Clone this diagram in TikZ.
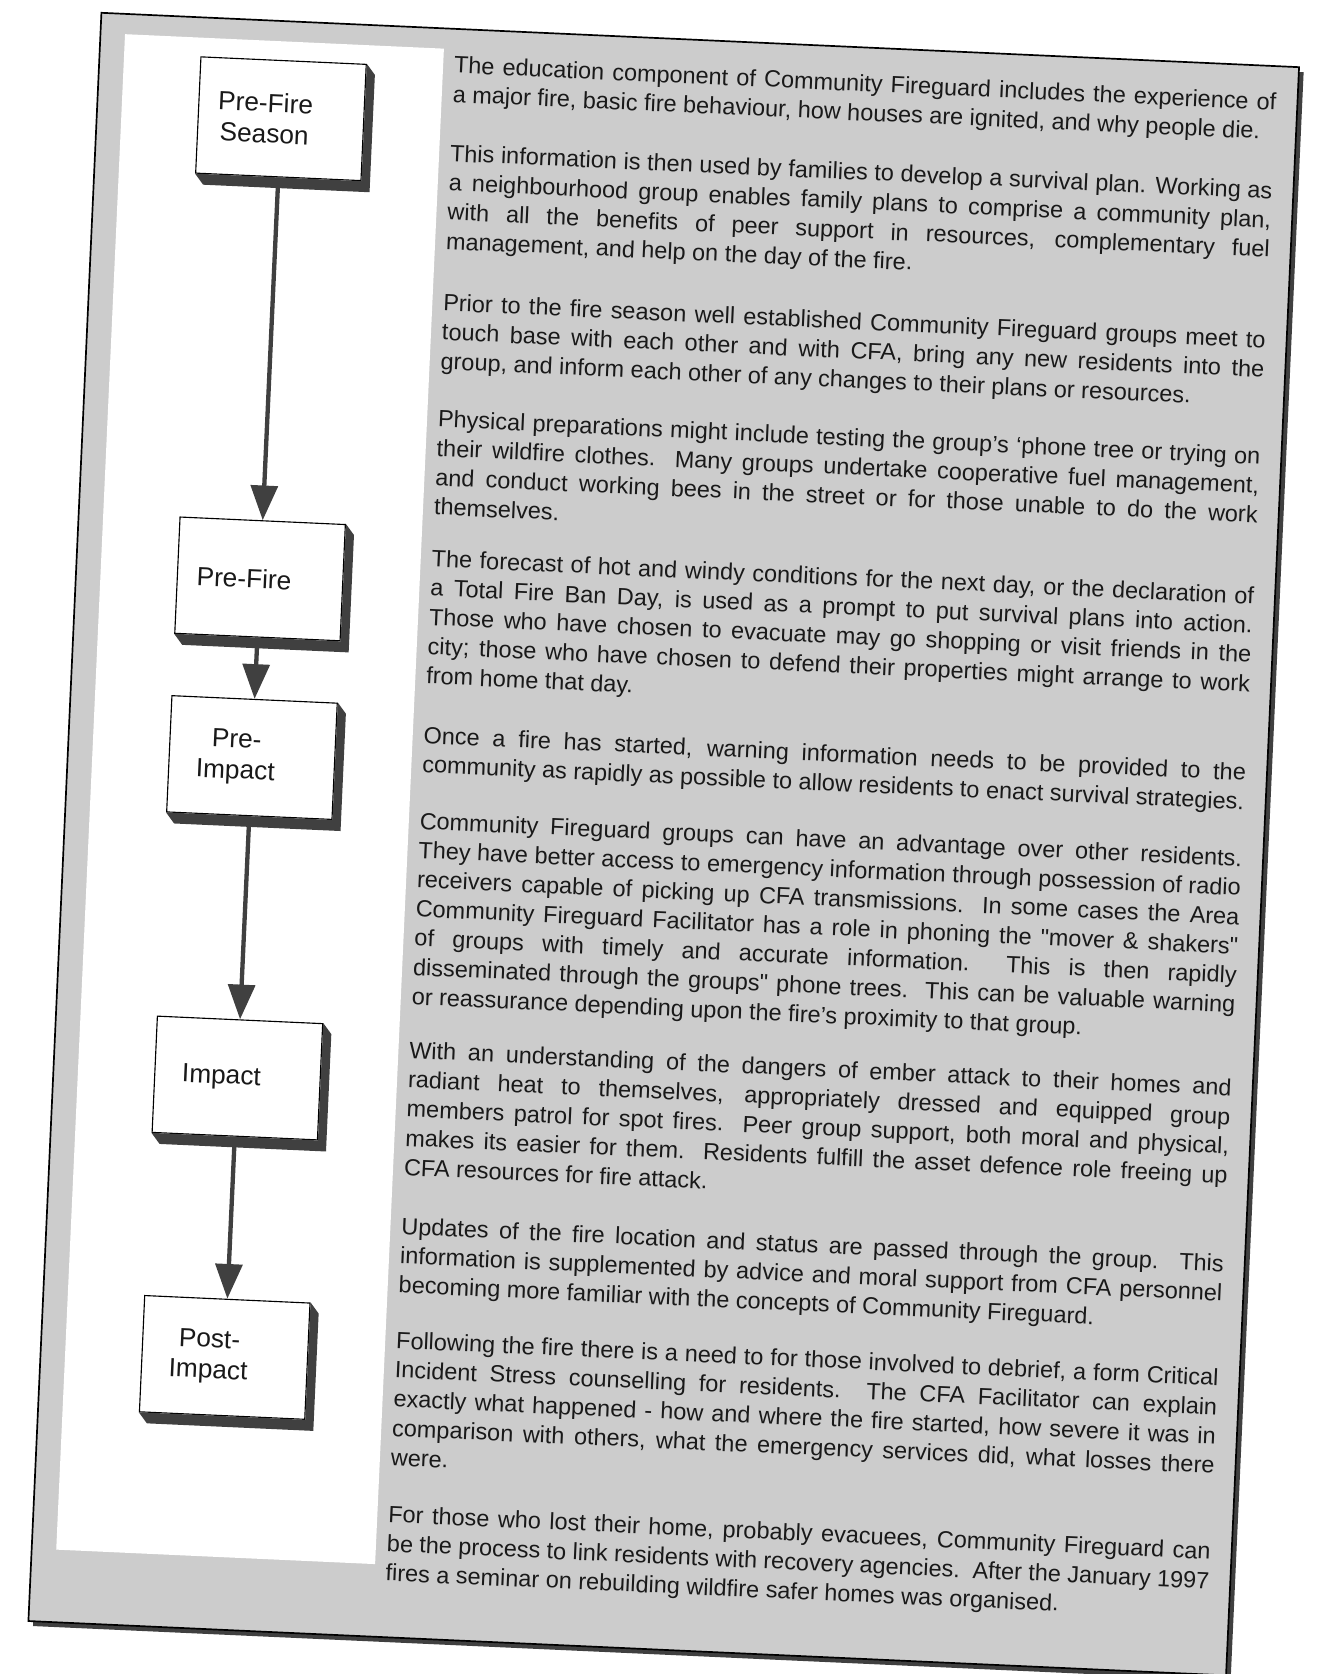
\documentclass[tikz,border=0pt]{standalone}
\usepackage{fontspec}
\setmainfont{Liberation Sans}[Ligatures=TeX]
\usetikzlibrary{arrows.meta, positioning}
\definecolor{PanelGray}{gray}{0.80}
\definecolor{ShadowGray}{gray}{0.25}
\definecolor{InkGray}{gray}{0.10}
\tikzset{
  % Box styles
  stagebox/.style={rectangle, draw=black, line width=0.6pt, fill=white, minimum width=3.1cm, minimum height=2.18cm},
  stagelabel/.style={xshift=-0.3cm, align=center, text=InkGray, font=\fontsize{14}{16.5}\selectfont},
  parabox/.style={anchor=north west, inner sep=0pt, text width=15.42cm, align=justify, text=InkGray, font=\fontsize{12.5}{15.6}\selectfont},
  % Arrow styles
  flowarrow/.style={-{Triangle[width=0.5cm, length=0.65cm]}, line width=2.3pt, ShadowGray}
}

\begin{document}
\begin{tikzpicture}
  \useasboundingbox (0,0) rectangle (24.68,-31.36);
  \begin{scope}[shift={(1.9,-0.24)}, rotate=-2.6, transform shape]
  % Page frame
  \fill[ShadowGray] (0.09,-0.09) rectangle (22.55,-30.25);
  \filldraw[fill=PanelGray, draw=black, line width=0.9pt] (0,0) rectangle (22.46,-30.16);
  \fill[white] (0.46,-0.38) rectangle (6.44,-28.8);

  % Stages
  \node[stagebox, label={[stagelabel]center:Pre-Fire\\Season}] (season) at (3.45,-1.83) {};
  \node[stagebox, label={[stagelabel]center:Pre-Fire}] (prefire) at (3.45,-10.46) {};
  \node[stagebox, label={[stagelabel]center:Pre-\\Impact}] (preimpact) at (3.45,-13.81) {};
  \node[stagebox, label={[stagelabel]center:Impact}] (impact) at (3.45,-19.82) {};
  \node[stagebox, label={[stagelabel]center:Post-\\Impact}] (postimpact) at (3.45,-25.06) {};

  % Box shadows
  \foreach \b in {season,prefire,preimpact,impact,postimpact}
    \fill[ShadowGray] (\b.north east) -- ++(0.16,-0.2) |- ([shift={(0.16,-0.2)}]\b.south west) -- (\b.south west) -- (\b.south east) -- cycle;

  % Arrows
  \draw[flowarrow] (season.south) -- (prefire.north);
  \draw[flowarrow] (prefire.south) -- (preimpact.north);
  \draw[flowarrow] (preimpact.south) -- (impact.north);
  \draw[flowarrow] (impact.south) -- (postimpact.north);

  % Text column
  \node[parabox] (education) at (6.64,-0.50) {The education component of Community Fireguard includes the experience of\linebreak a major fire, basic fire behaviour, how houses are ignited, and why people die.};
  \node[parabox] (plan) at (6.64,-2.16) {This information is then used by families to develop a survival plan. Working as\linebreak a neighbourhood group enables family plans to comprise a community plan,\linebreak with all the benefits of peer support in resources, complementary fuel\linebreak management, and help on the day of the fire.};
  \node[parabox] (season text) at (6.64,-4.96) {Prior to the fire season well established Community Fireguard groups meet to\linebreak touch base with each other and with CFA, bring any new residents into the\linebreak group, and inform each other of any changes to their plans or resources.};
  \node[parabox] (physical) at (6.64,-7.14) {Physical preparations might include testing the group’s `phone tree or trying on\linebreak their wildfire clothes.\ \ Many groups undertake cooperative fuel management,\linebreak and conduct working bees in the street or for those unable to do the work\linebreak themselves.};
  \node[parabox] (forecast) at (6.64,-9.76) {The forecast of hot and windy conditions for the next day, or the declaration of\linebreak a Total Fire Ban Day, is used as a prompt to put survival plans into action.\linebreak Those who have chosen to evacuate may go shopping or visit friends in the\linebreak city; those who have chosen to defend their properties might arrange to work\linebreak from home that day.};
  \node[parabox] (warning) at (6.64,-13.07) {Once a fire has started, warning information needs to be provided to the\linebreak community as rapidly as possible to allow residents to enact survival strategies.};
  \node[parabox] (groups) at (6.64,-14.68) {Community Fireguard groups can have an advantage over other residents.\linebreak They have better access to emergency information through possession of radio\linebreak receivers capable of picking up CFA transmissions.\ \ In some cases the Area\linebreak Community Fireguard Facilitator has a role in phoning the \textquotedbl mover \& shakers\textquotedbl\linebreak of groups with timely and accurate information.\ \ This is then rapidly\linebreak disseminated through the groups\textquotedbl{} phone trees.\ \ This can be valuable warning\linebreak or reassurance depending upon the fire’s proximity to that group.};
  \node[parabox] (ember) at (6.64,-18.98) {With an understanding of the dangers of ember attack to their homes and\linebreak radiant heat to themselves, appropriately dressed and equipped group\linebreak members patrol for spot fires.\ \ Peer group support, both moral and physical,\linebreak makes its easier for them.\ \ Residents fulfill the asset defence role freeing up\linebreak CFA resources for fire attack.};
  \node[parabox] (updates) at (6.64,-22.28) {Updates of the fire location and status are passed through the group.\ \ This\linebreak information is supplemented by advice and moral support from CFA personnel\linebreak becoming more familiar with the concepts of Community Fireguard.};
  \node[parabox] (debrief) at (6.64,-24.42) {Following the fire there is a need to for those involved to debrief, a form Critical\linebreak Incident Stress counselling for residents.\ \ The CFA Facilitator can explain\linebreak exactly what happened - how and where the fire started, how severe it was in\linebreak comparison with others, what the emergency services did, what losses there\linebreak were.};
  \node[parabox] (recovery) at (6.64,-27.68) {For those who lost their home, probably evacuees, Community Fireguard can\linebreak be the process to link residents with recovery agencies.\ \ After the January 1997\linebreak fires a seminar on rebuilding wildfire safer homes was organised.};
  \end{scope}
\end{tikzpicture}
\end{document}
